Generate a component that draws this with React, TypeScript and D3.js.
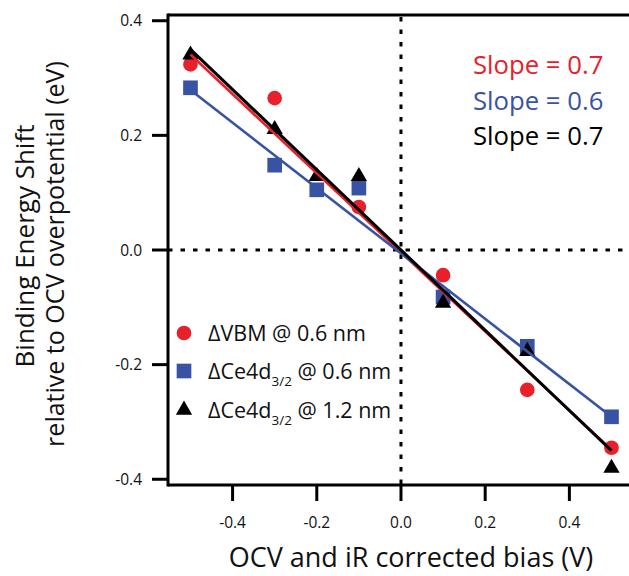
import React from 'react';
import * as d3 from 'd3';

// ---- data ----
const vbmX = [-0.5, -0.3, -0.1, 0.1, 0.3, 0.5];
const vbmY = [0.324, 0.265, 0.075, -0.044, -0.244, -0.345];
const ceX = [-0.5, -0.3, -0.2, -0.1, 0.1, 0.3, 0.5];
const ce06Y = [0.283, 0.148, 0.105, 0.108, -0.082, -0.168, -0.291];
const ce12Y = [0.343, 0.213, 0.131, 0.131, -0.09, -0.174, -0.378];

const fitNames = ['vbm', 'ce06', 'ce12'];
const fitSlopes = [-0.69, -0.57, -0.7];
const fitIntercepts = [-0.004, -0.006, 0.0];
const fitRange = [-0.5, 0.5];

const xTicks = [-0.4, -0.2, 0.0, 0.2, 0.4];
const yTicks = [-0.4, -0.2, 0.0, 0.2, 0.4];
const slopeLabels = ['Slope = 0.7', 'Slope = 0.6', 'Slope = 0.7'];

const RED = '#e8202a';
const BLUE = '#3953a4';
const BLACK = '#000000';
const colors = [RED, BLUE, BLACK];
const FONT = "'Open Sans', 'Noto Sans', sans-serif";

const W = 629;
const H = 576;

export default function App() {
  const x = d3.scaleLinear().domain([-0.5534, 0.5416]).range([168, 629]);
  const y = d3.scaleLinear().domain([-0.41, 0.41]).range([485, 15]);

  const circle = d3.symbol().type(d3.symbolCircle).size(170)();
  const square = d3.symbol().type(d3.symbolSquare).size(215)();
  const triangle = d3.symbol().type(d3.symbolTriangle).size(115)();

  const fitPath = (k: number) => {
    const pts: [number, number][] = fitRange.map((v) => [x(v), y(fitSlopes[k] * v + fitIntercepts[k])]);
    return d3.line()(pts) || '';
  };

  const legendItems = [
    { shape: circle, color: RED, main: '\u0394VBM', sub: '', rest: ' @ 0.6 nm', y: 333 },
    { shape: square, color: BLUE, main: '\u0394Ce4d', sub: '3/2', rest: ' @ 0.6 nm', y: 371 },
    { shape: triangle, color: BLACK, main: '\u0394Ce4d', sub: '3/2', rest: ' @ 1.2 nm', y: 410 },
  ];

  return (
    <svg width={W} height={H} style={{ position: 'absolute', left: 0, top: 0 }} fontFamily={FONT}>
      <rect width={W} height={H} fill="#fff" />
      {/* zero dotted lines */}
      <line x1={x(0)} x2={x(0)} y1={y.range()[1] + 2} y2={y.range()[0]} stroke="#000" strokeWidth={3} strokeDasharray="4.5,8" />
      <line x1={x.range()[0]} x2={W} y1={y(0)} y2={y(0)} stroke="#000" strokeWidth={3} strokeDasharray="4.5,8" />

      {/* markers */}
      {vbmX.map((v, i) => (
        <path key={'c' + i} d={circle} fill={RED} transform={`translate(${x(v)},${y(vbmY[i])})`} />
      ))}
      {ceX.map((v, i) => (
        <path key={'s' + i} d={square} fill={BLUE} transform={`translate(${x(v)},${y(ce06Y[i])})`} />
      ))}
      {ceX.map((v, i) => (
        <path key={'t' + i} d={triangle} fill={BLACK} transform={`translate(${x(v)},${y(ce12Y[i]) + 1.5})`} />
      ))}

      {/* fit lines */}
      {fitNames.map((n, k) => (
        <path key={n} d={fitPath(k)} stroke={colors[k]} strokeWidth={k === 2 ? 3 : 2.6} fill="none" />
      ))}

      {/* frame */}
      <line x1={x.range()[0]} x2={W} y1={y.range()[1]} y2={y.range()[1]} stroke="#000" strokeWidth={3} />
      <line x1={x.range()[0]} x2={W} y1={y.range()[0]} y2={y.range()[0]} stroke="#000" strokeWidth={3} />
      <line x1={x.range()[0]} x2={x.range()[0]} y1={y.range()[1] - 1.5} y2={y.range()[0] + 1.5} stroke="#000" strokeWidth={3} />

      {/* y ticks */}
      {yTicks.map((t) => (
        <g key={'yt' + t} transform={`translate(0,${y(t)})`}>
          <line x1={152} x2={168} stroke="#000" strokeWidth={3} />
          <text x={142} dy="0.36em" textAnchor="end" fontSize={15.5} fill="#111">
            {t.toFixed(1)}
          </text>
        </g>
      ))}
      {/* x ticks */}
      {xTicks.map((t) => (
        <g key={'xt' + t} transform={`translate(${x(t)},0)`}>
          <line y1={485} y2={501} stroke="#000" strokeWidth={3} />
          <text y={528} textAnchor="middle" fontSize={15.5} fill="#111">
            {t.toFixed(1)}
          </text>
        </g>
      ))}

      {/* axis titles */}
      <text x={411} y={567} textAnchor="middle" fontSize={27} fill="#111">
        OCV and iR corrected bias (V)
      </text>
      <g transform="translate(34,246) rotate(-90)">
        <text textAnchor="middle" fontSize={26} fill="#111">Binding Energy Shift</text>
      </g>
      <g transform="translate(64,254) rotate(-90)">
        <text textAnchor="middle" fontSize={25} fill="#111">relative to OCV overpotential (eV)</text>
      </g>

      {/* slope labels */}
      {slopeLabels.map((s, k) => (
        <text key={'sl' + k} x={473} y={74 + k * 35.5} fontSize={25.7} fill={colors[k]}>
          {s}
        </text>
      ))}

      {/* legend */}
      {legendItems.map((it, k) => (
        <g key={'lg' + k}>
          <path d={it.shape} fill={it.color} transform={`translate(184,${it.y})`} />
          <text x={208} y={it.y + 8} fontSize={21.5} fill="#111">
            {it.main}
            {it.sub ? (
              <tspan fontSize={13.5} dy={7}>{it.sub}</tspan>
            ) : null}
            {it.sub ? <tspan dy={-7}>{it.rest}</tspan> : it.rest}
          </text>
        </g>
      ))}
    </svg>
  );
}
